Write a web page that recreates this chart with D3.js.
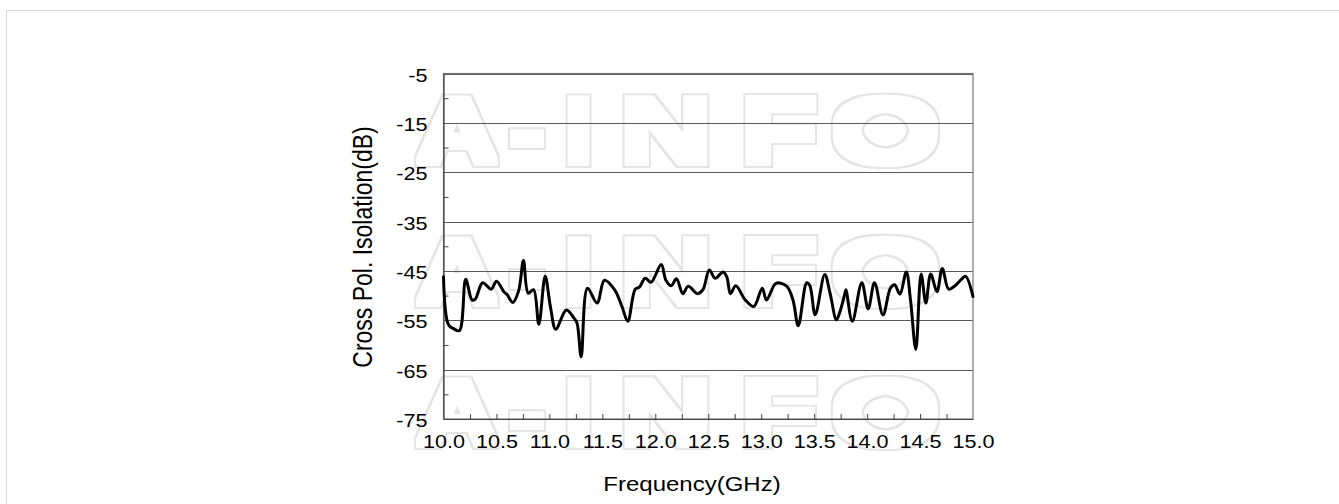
<!DOCTYPE html>
<html>
<head>
<meta charset="utf-8">
<script src="https://cdn.jsdelivr.net/npm/d3@7"></script>
<style>
  html, body { margin: 0; padding: 0; background: #fff; }
  svg { display: block; }
  text { font-family: "Liberation Sans", Arial, sans-serif; }
</style>
</head>
<body>
<svg id="chart" width="1339" height="504"></svg>
<script>
// ---- data ----
const freqGHz = [10.00,10.047,10.095,10.15,10.21,10.27,10.30,10.37,10.45,10.50,10.57,10.60,10.655,10.71,10.755,10.80,10.85,10.90,10.96,11.01,11.06,11.16,11.23,11.26,11.30,11.36,11.45,11.52,11.615,11.685,11.74,11.81,11.85,11.905,11.96,12.056,12.10,12.15,12.20,12.26,12.31,12.40,12.45,12.51,12.565,12.64,12.675,12.71,12.76,12.85,12.93,13.01,13.05,13.14,13.24,13.30,13.35,13.43,13.46,13.51,13.60,13.65,13.71,13.74,13.79,13.80,13.86,13.95,14.01,14.07,14.15,14.22,14.26,14.31,14.37,14.41,14.46,14.51,14.555,14.60,14.66,14.71,14.77,14.83,14.89,14.93,15.00];
const isolationDb = [-46.2,-55.9,-56.7,-57.1,-46.7,-50.9,-50.7,-47.4,-48.7,-47.1,-49.2,-49.8,-51.4,-49.0,-42.9,-49.5,-48.8,-55.8,-46.1,-52.3,-56.8,-52.9,-54.5,-55.5,-62.4,-48.5,-51.5,-46.9,-48.8,-52.2,-55.2,-48.7,-48.3,-46.5,-47.3,-43.7,-46.9,-48.0,-46.6,-49.6,-48.1,-49.6,-48.8,-44.8,-46.5,-45.2,-46.2,-49.6,-48.0,-50.9,-52.2,-48.5,-50.9,-47.5,-48.1,-50.9,-56.1,-47.4,-48.0,-53.9,-45.7,-49.5,-54.9,-53.5,-49.6,-48.8,-55.2,-47.4,-52.7,-47.4,-53.9,-48.5,-47.8,-49.7,-45.2,-50.9,-60.9,-45.6,-51.5,-45.6,-49.2,-44.5,-48.7,-48.0,-46.7,-46.1,-50.2];
const xTickLabels = [10.0,10.5,11.0,11.5,12.0,12.5,13.0,13.5,14.0,14.5,15.0];
const xMinorTicks = [10.25,10.5,10.75,11.0,11.25,11.5,11.75,12.0,12.25,12.5,12.75,13.0,13.25,13.5,13.75,14.0,14.25,14.5,14.75];
const yTickLabels = [-5,-15,-25,-35,-45,-55,-65,-75];
const yMinorTicks = [-10,-20,-30,-40,-50,-60,-70];
const xTitle = "Frequency(GHz)";
const yTitle = "Cross Pol. Isolation(dB)";
const watermarkLetters = ["A","-","I","N","F","O"];
const watermarkRows = [0,1,2];

// ---- layout ----
const svg = d3.select("#chart");
const L = 443.5, R = 973, T = 73.5, B = 419;
const x = d3.scaleLinear().domain([10, 15]).range([L, R]);
const y = d3.scaleLinear().domain([-75, -5]).range([B, T]);
const SX = 1.2;
const FONT = "'Liberation Sans', Arial, sans-serif";

// page frame
svg.append("rect").attr("x", 6.5).attr("y", 10.5).attr("width", 2000).attr("height", 2000)
  .attr("fill", "none").attr("stroke", "#d9d9d9").attr("stroke-width", 1);

// watermark outline filter (ring around dilated glyphs)
const GROW = 5;
const defs = svg.append("defs");
const f = defs.append("filter").attr("id", "wmOutline").attr("filterUnits", "userSpaceOnUse")
  .attr("x", 0).attr("y", 0).attr("width", 1339).attr("height", 504);
f.append("feMorphology").attr("in", "SourceAlpha").attr("operator", "dilate").attr("radius", GROW + 1).attr("result", "outer");
f.append("feMorphology").attr("in", "SourceAlpha").attr("operator", "dilate").attr("radius", GROW - 1).attr("result", "inner");
f.append("feComposite").attr("in", "outer").attr("in2", "inner").attr("operator", "out").attr("result", "ring");
f.append("feFlood").attr("flood-color", "#e4e4e4").attr("result", "col");
f.append("feComposite").attr("in", "col").attr("in2", "ring").attr("operator", "in");

// watermark letters (letter boxes: left edge, width)
const wmBoxes = [[412, 90], [505, 44], [560, 37], [615, 102], [736, 86], [826, 119]];
const wm = svg.append("g").attr("filter", "url(#wmOutline)").attr("pointer-events", "none");
watermarkRows.forEach(r => {
  wm.append("g").selectAll("text").data(watermarkLetters).join("text")
    .attr("x", (d, i) => wmBoxes[i][0] + GROW).attr("y", 167 - GROW + r * 141)
    .attr("textLength", (d, i) => wmBoxes[i][1] - 2 * GROW).attr("lengthAdjust", "spacingAndGlyphs")
    .attr("font-size", (75 - 2 * GROW) / 0.716).attr("font-weight", "bold")
    .attr("fill", "#000")
    .text(d => d);
});

// gridlines
svg.append("g").selectAll("line").data(yTickLabels).join("line")
  .attr("x1", L).attr("x2", R).attr("y1", d => Math.round(y(d)) + 0.5).attr("y2", d => Math.round(y(d)) + 0.5)
  .attr("stroke", "#5a5a5a").attr("stroke-width", 1);

// plot border
svg.append("rect").attr("x", L).attr("y", T).attr("width", R - L).attr("height", B - T)
  .attr("fill", "none").attr("stroke", "#777").attr("stroke-width", 1.2);

// y axis
const yAxis = svg.append("g").attr("transform", `translate(${L},0)`)
  .call(d3.axisLeft(y).tickValues(yTickLabels).tickSize(0).tickPadding(13.3).tickFormat(d => String(d)));
yAxis.select(".domain").attr("stroke", "#444").attr("stroke-width", 1.2);
yAxis.selectAll("text").attr("font-size", 18).attr("fill", "#000")
  .attr("dy", "0.42em").attr("transform", `scale(${SX},1)`)
  .style("font-family", FONT);
const yMinor = svg.append("g").attr("transform", `translate(${L},0)`)
  .call(d3.axisRight(y).tickValues(yMinorTicks).tickSize(5).tickFormat(""));
yMinor.select(".domain").remove();
yMinor.selectAll("line").attr("stroke", "#444");

// x axis
const xAxis = svg.append("g").attr("transform", `translate(0,${B})`)
  .call(d3.axisBottom(x).tickValues(xTickLabels).tickSize(0).tickPadding(16).tickFormat(d => d.toFixed(1)));
xAxis.select(".domain").attr("stroke", "#444").attr("stroke-width", 1.2);
xAxis.selectAll("text").attr("font-size", 18).attr("fill", "#000")
  .attr("transform", `scale(${SX},1)`)
  .style("font-family", FONT);
const xMinor = svg.append("g").attr("transform", `translate(0,${B})`)
  .call(d3.axisTop(x).tickValues(xMinorTicks).tickSize(5).tickFormat(""));
xMinor.select(".domain").remove();
xMinor.selectAll("line").attr("stroke", "#444");

// data line
const line = d3.line().x((d, i) => x(freqGHz[i])).y(d => y(d)).curve(d3.curveCatmullRom.alpha(0.5));
svg.append("path").datum(isolationDb).attr("d", line)
  .attr("fill", "none").attr("stroke", "#000").attr("stroke-width", 3)
  .attr("stroke-linejoin", "round").attr("stroke-linecap", "round");

// titles
svg.append("text").attr("transform", `translate(692,491) scale(${SX},1)`)
  .attr("text-anchor", "middle").attr("font-size", 20).attr("fill", "#000").text(xTitle);
svg.append("text").attr("transform", `translate(372,247) scale(${SX},1) rotate(-90)`)
  .attr("text-anchor", "middle").attr("font-size", 23).attr("fill", "#000").text(yTitle);
</script>
</body>
</html>
